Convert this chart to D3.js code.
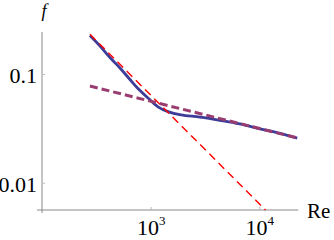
<!DOCTYPE html>
<html>
<head>
<meta charset="utf-8">
<script src="https://cdn.jsdelivr.net/npm/d3@7"></script>
<style>
  body { margin: 0; background: #fff; }
  svg { display: block; }
  text { font-family: 'Liberation Serif', 'Times New Roman', serif; fill: #000; }
</style>
</head>
<body>
<svg width="334" height="240"></svg>
<script>
// Reynolds numbers and friction factors
const blendRe = [276, 342, 422, 522, 645, 764, 945, 1167, 1443, 1900, 2841, 4340, 6630, 10130, 15470, 22320];
const blendF = [0.226, 0.1809, 0.1418, 0.1136, 0.089, 0.0736, 0.0601, 0.0499, 0.0451, 0.0421, 0.0401, 0.0375, 0.0347, 0.0313, 0.0284, 0.02567];

const laminarRe = [276, 11400];
const laminarF = [0.232, 0.00561];

const turbulentRe = [276, 22320];
const turbulentF = [0.0775, 0.02582];

const xTicks = [1000, 10000];
const xTickExp = ['3', '4'];
const yTicks = [0.1, 0.01];
const yTickLabels = ['0.1', '0.01'];

const serif = "'Liberation Serif', 'Times New Roman', serif";

const svg = d3.select('svg');

const x = d3.scaleLog().domain([100, 22840]).range([42, 298.3]);
const y = d3.scaleLog().domain([0.005609, 0.2434]).range([210, 32]);

const toPoints = (reList, fList) => reList.map((re, i) => [re, fList[i]]);

const line = d3.line()
  .x((d) => x(d[0]))
  .y((d) => y(d[1]))
  .curve(d3.curveCatmullRom.alpha(0.5));

// axes lines
svg.append('line')
  .attr('x1', 37).attr('x2', x.range()[1])
  .attr('y1', y.range()[0]).attr('y2', y.range()[0])
  .attr('stroke', '#8a8a8a').attr('stroke-width', 1);

svg.append('line')
  .attr('x1', x.range()[0]).attr('x2', x.range()[0])
  .attr('y1', y.range()[1]).attr('y2', 213)
  .attr('stroke', '#8a8a8a').attr('stroke-width', 1);

const yAxis = svg.append('g')
  .attr('transform', `translate(${x.range()[0]},0)`)
  .call(
    d3.axisLeft(y)
      .tickValues(yTicks)
      .tickSize(-3)
      .tickSizeOuter(0)
      .tickPadding(5)
      .tickFormat((d, i) => yTickLabels[i])
  );
yAxis.select('.domain').remove();
yAxis.attr('font-family', null).attr('font-size', null);
yAxis.selectAll('line').attr('stroke', '#bbbbbb');
yAxis.selectAll('text')
  .style('font-family', serif)
  .style('font-size', '22px')
  .attr('dy', '0.4em');

const xAxis = svg.append('g')
  .attr('transform', `translate(0,${y.range()[0]})`)
  .call(
    d3.axisBottom(x)
      .tickValues(xTicks)
      .tickSize(-3)
      .tickSizeOuter(0)
      .tickPadding(10)
      .tickFormat('')
  );
xAxis.select('.domain').remove();
xAxis.attr('font-family', null).attr('font-size', null);
xAxis.selectAll('line').attr('stroke', '#bbbbbb');
xAxis.selectAll('text').each(function (d, i) {
  const t = d3.select(this)
    .style('font-family', serif)
    .style('font-size', '22px')
    .attr('dy', '0.68em');
  t.append('tspan').text('10');
  t.append('tspan')
    .style('font-size', '13px')
    .attr('dy', '-0.75em')
    .text(xTickExp[i]);
});

// curves
svg.append('path')
  .datum(toPoints(blendRe, blendF))
  .attr('d', line)
  .attr('fill', 'none')
  .attr('stroke', 'rgb(61,61,153)')
  .attr('stroke-width', 2.8);

svg.append('path')
  .datum(toPoints(laminarRe, laminarF))
  .attr('d', line)
  .attr('fill', 'none')
  .attr('stroke', '#ff0000')
  .attr('stroke-width', 1.4)
  .attr('stroke-dasharray', '8,5');

svg.append('path')
  .datum(toPoints(turbulentRe, turbulentF))
  .attr('d', line)
  .attr('fill', 'none')
  .attr('stroke', 'rgb(153,61,113)')
  .attr('stroke-width', 3)
  .attr('stroke-dasharray', '8,4');

// axis titles
svg.append('text')
  .attr('x', 44)
  .attr('y', 17)
  .attr('text-anchor', 'middle')
  .style('font-family', serif)
  .style('font-size', '18px')
  .style('font-style', 'italic')
  .text('f');

svg.append('text')
  .attr('x', 307)
  .attr('y', 218)
  .style('font-family', serif)
  .style('font-size', '21px')
  .text('Re');
</script>
</body>
</html>
